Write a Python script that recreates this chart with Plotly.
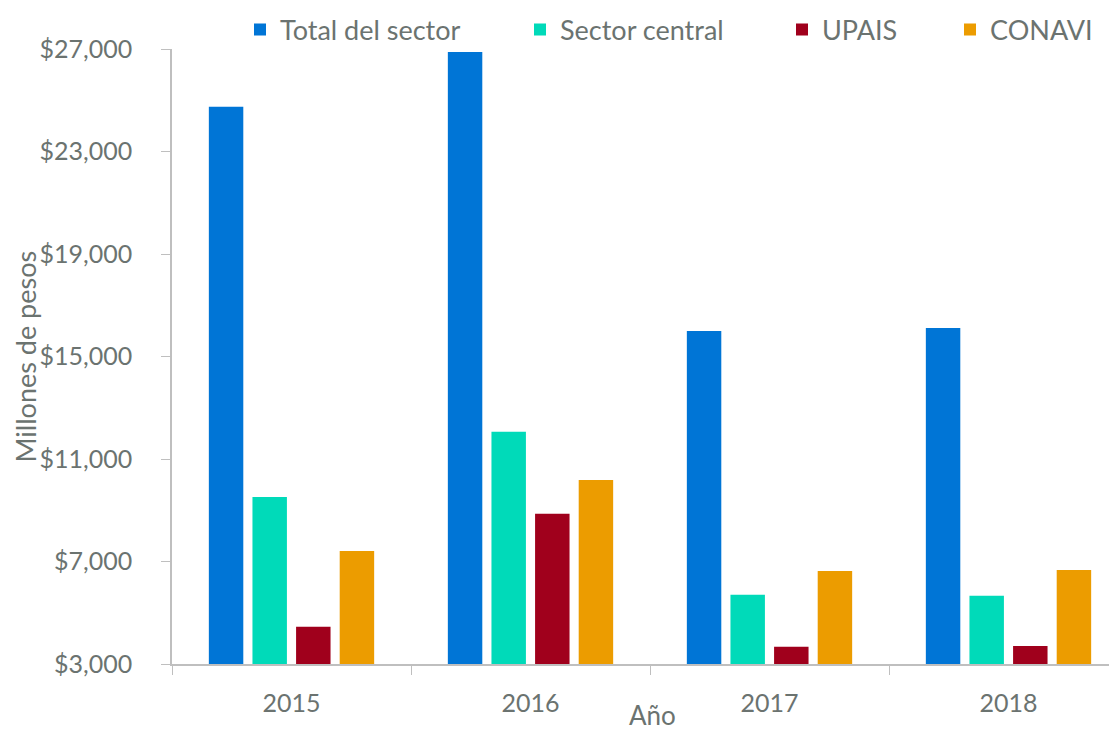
import plotly.graph_objects as go

years = ["2015", "2016", "2017", "2018"]
total_sector = [24750, 26880, 16000, 16110]
sector_central = [9520, 12060, 5700, 5660]
upais = [4450, 8860, 3670, 3700]
conavi = [7410, 10180, 6630, 6670]

series_names = ["Total del sector", "Sector central", "UPAIS", "CONAVI"]
series_values = [total_sector, sector_central, upais, conavi]
series_colors = ["#0075D6", "#00DAB9", "#A0001C", "#EC9C00"]
legend_square_x = [260, 540, 802, 970]  # page pixel centre of each legend swatch

y_ticks = [3000, 7000, 11000, 15000, 19000, 23000, 27000]
y_ticktext = ["$3,000", "$7,000", "$11,000", "$15,000", "$19,000", "$23,000", "$27,000"]

font_family = "Lato, 'Open Sans', sans-serif"
text_color = "#6B7370"

OFF = 8  # default page body margin
W, H = 1117 - OFF, 730 - OFF
ML, MR, MT, MB = 172 - OFF, 0, 49 - OFF, 66
PW, PH = W - ML - MR, H - MT - MB
CAT_W = 239  # pixel width of one category slot in the reference

fig = go.Figure()
legend_ids = ["legend", "legend2", "legend3", "legend4"]
for name, vals, color, lid in zip(series_names, series_values, series_colors, legend_ids):
    fig.add_trace(go.Bar(x=years, y=vals, name=name, marker_color=color,
                         marker_line_width=0, legend=lid))

legend_layout = {}
for lid, sx in zip(legend_ids, legend_square_x):
    legend_layout[lid] = dict(
        orientation="h", xref="container", yref="container",
        x=(sx - 28) / W, xanchor="left", y=1 - 22 / H, yanchor="middle",
        font=dict(size=27, color=text_color), bgcolor="rgba(0,0,0,0)",
        borderwidth=0,
    )

fig.update_layout(
    width=W, height=H,
    margin=dict(l=ML, r=MR, t=MT, b=MB, autoexpand=False),
    paper_bgcolor="white", plot_bgcolor="white",
    barmode="group", bargap=0.27, bargroupgap=0.21,
    font=dict(family=font_family, size=25, color=text_color),
    showlegend=True,
    xaxis=dict(
        range=[-0.5, -0.5 + PW / CAT_W],
        showline=True, linecolor="#BFBFBF", linewidth=1.5,
        ticks="outside", tickson="boundaries", ticklen=9, tickcolor="#BFBFBF",
        tickfont=dict(size=25, color=text_color),
        ticklabelstandoff=16,
        showgrid=False, zeroline=False,
    ),
    yaxis=dict(
        range=[3000, 27000], tickvals=y_ticks, ticktext=y_ticktext,
        showline=True, linecolor="#BFBFBF", linewidth=1.5,
        ticks="outside", ticklen=9, tickcolor="#BFBFBF",
        tickfont=dict(size=25, color=text_color),
        ticklabelstandoff=24,
        showgrid=False, zeroline=False,
    ),
    annotations=[
        dict(text="Año", xref="paper", yref="paper", x=(652 - OFF - ML) / PW,
             y=(15 - MB) / PH, xanchor="center", yanchor="middle", showarrow=False,
             font=dict(size=26, color=text_color)),
        dict(text="Millones de pesos", xref="paper", yref="paper",
             x=(25 - OFF - ML) / PW, y=0.5, textangle=-90, xanchor="center",
             yanchor="middle", showarrow=False, font=dict(size=27, color=text_color)),
    ],
    **legend_layout,
)

fig.write_html("out.html")
